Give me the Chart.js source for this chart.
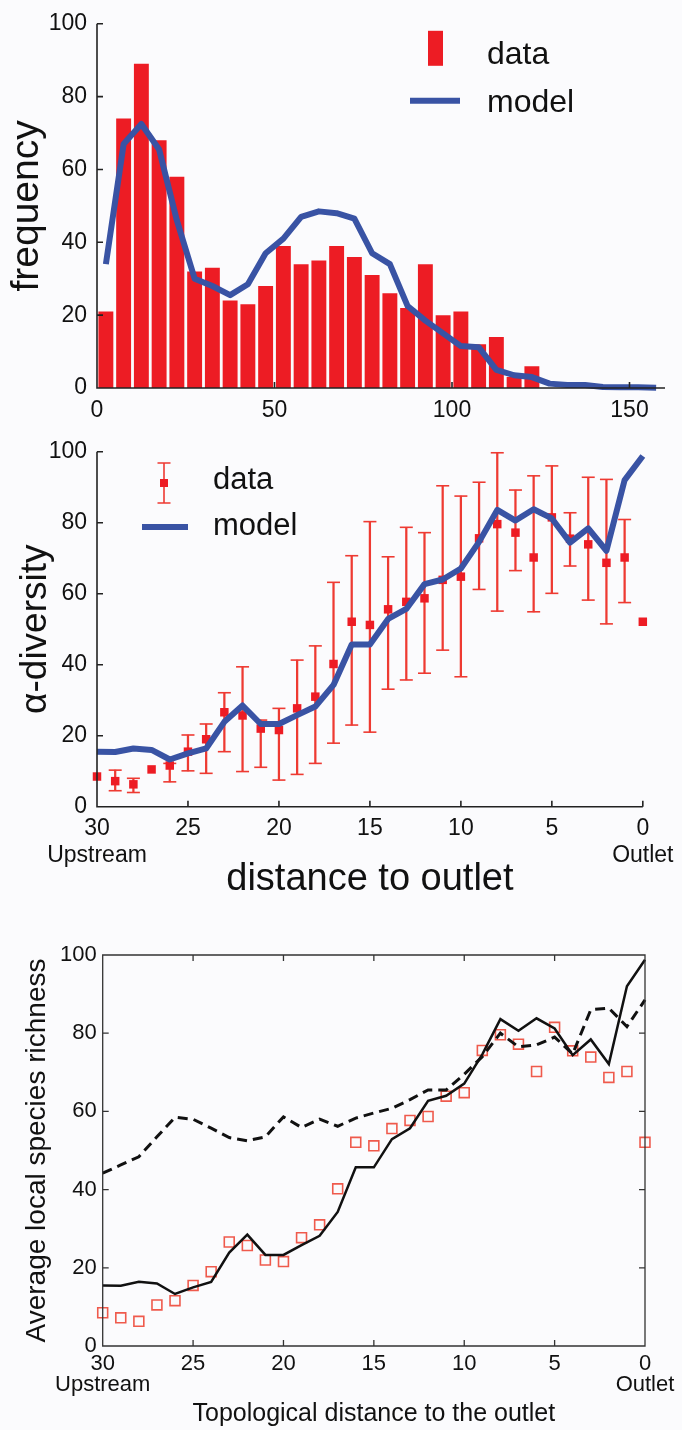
<!DOCTYPE html>
<html>
<head>
<meta charset="utf-8">
<script src="https://cdn.jsdelivr.net/npm/chart.js@4.4.1/dist/chart.umd.min.js"></script>
<style>
    body { margin: 0; background: #fbfbfd; }
    canvas { position: absolute; left: 0; }
</style>
</head>
<body>
<canvas id="freqChart" width="682" height="430" style="top:0"></canvas>
<canvas id="alphaChart" width="682" height="480" style="top:420px"></canvas>
<canvas id="richChart" width="682" height="510" style="top:920px"></canvas>
<script>
// Top panel: histogram of site distances, 5-unit bins.
const binCenters = [2.5, 7.5, 12.5, 17.5, 22.5, 27.5, 32.5, 37.5, 42.5, 47.5, 52.5, 57.5, 62.5, 67.5, 72.5, 77.5,
    82.5, 87.5, 92.5, 97.5, 102.5, 107.5, 112.5, 117.5, 122.5, 127.5, 132.5, 137.5, 142.5, 147.5, 152.5, 157.5];
const freqData = [21, 74, 89, 68, 58, 32, 33, 24, 23, 28, 39, 34, 35, 39, 36, 31,
    26, 22, 34, 20, 21, 12, 14, 3, 6, 0, 0, 0, 0, 0, 0, 0];
const freqModel = [34, 67, 72.5, 65.5, 46, 30, 28, 25.5, 28.5, 37, 41, 47, 48.5, 48, 46.5, 37,
    34, 22.5, 18.5, 15, 11.5, 11.2, 5, 3.5, 3, 1.2, 0.8, 0.8, 0.3, 0.2, 0.2, 0.1];
const freqXTicks = [0, 50, 100, 150];

// Middle and bottom panels: richness against distance to the outlet.
const distance = [30, 29, 28, 27, 26, 25, 24, 23, 22, 21, 20, 19, 18, 17, 16, 15,
    14, 13, 12, 11, 10, 9, 8, 7, 6, 5, 4, 3, 2, 1, 0];
const richness = [8.5, 7.2, 6.3, 10.5, 11.6, 15.5, 19, 26.6, 25.7, 22, 21.6, 27.7, 31, 40.2, 52.1, 51.2,
    55.6, 57.7, 58.7, 63.9, 64.8, 75.6, 79.6, 77.2, 70.2, 81.5, 75.5, 73.9, 68.7, 70.2, 52.1];
const richnessHigh = [null, 10.3, 8, null, 12.2, 20.2, 23.3, 32.1, 39.4, 24.4, 27.7, 41.3, 45.3, 63.2, 70.7, 80.3,
    70.4, 78.7, 77.2, 90.4, 87.5, 91.4, 99.7, 89.2, 93.2, 96, 82.8, 92.8, 92.2, 80.9, null];
const richnessLow = [null, 4.5, 4, null, 7, 10.1, 9.4, 15.5, 9.9, 11.1, 7.5, 9.1, 12.2, 17.9, 23, 21,
    33.1, 35.7, 37.6, 44.1, 36.6, 61.2, 55.1, 66.5, 54.9, 60.1, 67.8, 58.2, 51.5, 57.5, null];
const modelRichness = [15.5, 15.4, 16.4, 16, 13.3, 15, 16.4, 23.9, 28.5, 23.3, 23.3, 25.8, 28.2, 34.3, 45.7, 45.7,
    52.9, 55.7, 62.7, 64, 67.1, 74.6, 83.6, 80.6, 83.8, 81.2, 74.4, 78.4, 72.1, 92, 98.8];
const altModelRichness = [44.2, 46.3, 48.4, 53.5, 58.5, 58, 55.7, 53.3, 52.5, 53.5, 58.6, 55.9, 58, 56.2, 58.3, 59.6,
    60.8, 63, 65.5, 65.5, 69.5, 74, 80, 76.5, 77, 79, 74.7, 86, 86.4, 81.7, 88.5];
const endTicks = [30, 0];
const endNames = ['Upstream', 'Outlet'];

const RED = '#ed1c24';
const ERR = '#ee3a32';
const BLUE = '#3953a4';
const INK = '#111';
const FONT = "'Liberation Sans', Arial, sans-serif";

const points = (xs, ys) => xs.map((x, i) => ({ x, y: ys[i] })).filter(p => p.y !== null);
const endLabel = v => endTicks.includes(v) ? [String(v), endNames[endTicks.indexOf(v)]] : String(v);
const noGrid = { display: false, drawTicks: false, tickLength: 0 };
const noBorder = { display: false };

// Axis lines with inward (MATLAB style) tick marks, optionally a full box.
const frame = {
    id: 'frame',
    afterDatasetsDraw(chart, args, opts) {
        const { ctx, chartArea: a, scales: { x, y } } = chart;
        const len = opts.tickLength;
        ctx.save();
        ctx.strokeStyle = opts.color;
        ctx.lineWidth = opts.lineWidth;
        ctx.beginPath();
        ctx.moveTo(a.left, a.top);
        ctx.lineTo(a.left, a.bottom);
        ctx.lineTo(a.right, a.bottom);
        if (opts.box) {
            ctx.lineTo(a.right, a.top);
            ctx.closePath();
        }
        x.ticks.forEach(t => {
            const px = x.getPixelForValue(t.value);
            ctx.moveTo(px, a.bottom);
            ctx.lineTo(px, a.bottom - len);
            if (opts.box) {
                ctx.moveTo(px, a.top);
                ctx.lineTo(px, a.top + len);
            }
        });
        y.ticks.forEach(t => {
            const py = y.getPixelForValue(t.value);
            ctx.moveTo(a.left, py);
            ctx.lineTo(a.left + len, py);
            if (opts.box) {
                ctx.moveTo(a.right, py);
                ctx.lineTo(a.right - len, py);
            }
        });
        ctx.stroke();
        ctx.restore();
    },
};

// Legend drawn inside the plot, symbols styled from the datasets.
const keyBox = {
    id: 'keyBox',
    afterDraw(chart, args, opts) {
        if (!opts.items) return;
        const { ctx, chartArea: a } = chart;
        ctx.save();
        opts.items.forEach(item => {
            const ds = chart.data.datasets[item.dataset];
            const cx = a.left + item.cx;
            const cy = a.top + item.cy;
            if (item.symbol === 'bar') {
                ctx.fillStyle = ds.backgroundColor;
                ctx.fillRect(cx - 7.5, cy - 17.5, 15, 35);
            } else if (item.symbol === 'line') {
                ctx.strokeStyle = ds.borderColor;
                ctx.lineWidth = ds.borderWidth;
                ctx.beginPath();
                ctx.moveTo(cx - item.half, cy);
                ctx.lineTo(cx + item.half, cy);
                ctx.stroke();
            } else if (item.symbol === 'errbar') {
                ctx.strokeStyle = ERR;
                ctx.lineWidth = 1.6;
                ctx.beginPath();
                ctx.moveTo(cx, cy - 20);
                ctx.lineTo(cx, cy + 20);
                ctx.moveTo(cx - 6.5, cy - 20);
                ctx.lineTo(cx + 6.5, cy - 20);
                ctx.moveTo(cx - 6.5, cy + 20);
                ctx.lineTo(cx + 6.5, cy + 20);
                ctx.stroke();
                ctx.fillStyle = ds.pointBackgroundColor;
                ctx.fillRect(cx - 4, cy - 4, 8, 8);
            }
            ctx.fillStyle = INK;
            ctx.font = opts.font;
            ctx.textBaseline = 'alphabetic';
            ctx.fillText(item.label, a.left + opts.textX, a.top + item.baseline);
        });
        ctx.restore();
    },
};

const common = {
    responsive: false,
    animation: false,
    devicePixelRatio: 1,
    events: [],
};

function tickFont(size, lineHeight = 1.2) {
    return { family: FONT, size, lineHeight };
}

// Top panel.
new Chart(document.getElementById('freqChart'), {
    type: 'bar',
    data: {
        datasets: [
            {
                type: 'line',
                label: 'model',
                data: points(binCenters, freqModel),
                borderColor: BLUE,
                borderWidth: 6,
                borderJoinStyle: 'round',
                pointRadius: 0,
                tension: 0,
                clip: false,
            },
            {
                type: 'bar',
                label: 'data',
                data: points(binCenters, freqData),
                backgroundColor: RED,
                barPercentage: 0.84,
                categoryPercentage: 1,
            },
        ],
    },
    options: {
        ...common,
        layout: { padding: { top: 20, right: 17, left: 0, bottom: 0 } },
        scales: {
            x: {
                type: 'linear', min: 0, max: 160, offset: false,
                grid: noGrid, border: noBorder,
                afterFit: s => { s.height = 42; },
                afterBuildTicks: s => { s.ticks = freqXTicks.map(value => ({ value })); },
                ticks: { padding: 9, font: tickFont(23), color: INK, maxRotation: 0, autoSkip: false },
            },
            y: {
                type: 'linear', min: 0, max: 100,
                grid: noGrid, border: noBorder,
                afterFit: s => { s.width = 97; },
                ticks: { stepSize: 20, padding: 10, font: tickFont(23), color: INK },
                title: { display: true, text: 'frequency', color: INK, font: { family: FONT, size: 39, lineHeight: 1 }, padding: { top: 8, bottom: 0 } },
            },
        },
        plugins: {
            legend: { display: false },
            tooltip: { enabled: false },
            frame: { tickLength: 6, lineWidth: 1.6, color: '#222', box: false },
            keyBox: {
                font: `32px ${FONT}`,
                textX: 390,
                items: [
                    { dataset: 1, label: 'data', symbol: 'bar', cx: 338.5, cy: 24.5, baseline: 40 },
                    { dataset: 0, label: 'model', symbol: 'line', cx: 338, cy: 77, half: 25, baseline: 88 },
                ],
            },
        },
    },
    plugins: [frame, keyBox],
});

// Middle panel.
new Chart(document.getElementById('alphaChart'), {
    type: 'line',
    data: {
        datasets: [
            {
                label: 'model',
                data: points(distance, modelRichness),
                borderColor: BLUE,
                borderWidth: 6,
                borderJoinStyle: 'round',
                pointRadius: 0,
                tension: 0,
                clip: false,
            },
            {
                label: 'data',
                data: points(distance, richness),
                showLine: false,
                pointStyle: 'rect',
                pointRadius: 6,
                pointBackgroundColor: RED,
                pointBorderWidth: 0,
                clip: false,
            },
            {
                label: 'caps',
                data: points(distance, richnessHigh).concat(points(distance, richnessLow)),
                showLine: false,
                pointStyle: 'line',
                pointRadius: 6.5,
                pointBorderColor: ERR,
                pointBorderWidth: 1.6,
                clip: false,
            },
            {
                type: 'bar',
                label: 'range',
                data: distance.map((x, i) => ({ x, y: [richnessLow[i], richnessHigh[i]] })).filter(p => p.y[0] !== null),
                backgroundColor: ERR,
                barThickness: 1.6,
            },
        ],
    },
    options: {
        ...common,
        layout: { padding: { top: 31.7, right: 36.3, left: 0, bottom: 0 } },
        scales: {
            x: {
                type: 'linear', min: 0, max: 30, reverse: true, offset: false,
                grid: noGrid, border: noBorder,
                afterFit: s => { s.height = 93.3; },
                ticks: { stepSize: 5, padding: 8.5, font: tickFont(23, 1.16), color: INK, maxRotation: 0, autoSkip: false, callback: endLabel },
                title: { display: true, text: 'distance to outlet', color: INK, font: { family: FONT, size: 38, lineHeight: 1 }, padding: { top: 0, bottom: 1 } },
            },
            y: {
                type: 'linear', min: 0, max: 100,
                grid: noGrid, border: noBorder,
                afterFit: s => { s.width = 97; },
                ticks: { stepSize: 20, padding: 10, font: tickFont(23), color: INK },
                title: { display: true, text: 'α-diversity', color: INK, font: { family: FONT, size: 37, lineHeight: 1 }, padding: { top: 17, bottom: 0 } },
            },
        },
        plugins: {
            legend: { display: false },
            tooltip: { enabled: false },
            frame: { tickLength: 6, lineWidth: 1.6, color: '#222', box: false },
            keyBox: {
                font: `31px ${FONT}`,
                textX: 116,
                items: [
                    { dataset: 1, label: 'data', symbol: 'errbar', cx: 67, cy: 31.3, baseline: 37.3 },
                    { dataset: 0, label: 'model', symbol: 'line', cx: 68, cy: 75.3, half: 23, baseline: 83.3 },
                ],
            },
        },
    },
    plugins: [frame, keyBox],
});

// Bottom panel.
new Chart(document.getElementById('richChart'), {
    type: 'line',
    data: {
        datasets: [
            {
                label: 'model',
                data: points(distance, modelRichness),
                borderColor: INK,
                borderWidth: 2.5,
                pointRadius: 0,
                tension: 0,
                clip: false,
            },
            {
                label: 'model without dispersal',
                data: points(distance, altModelRichness),
                borderColor: INK,
                borderWidth: 3,
                borderDash: [10, 6],
                pointRadius: 0,
                tension: 0,
                clip: false,
            },
            {
                label: 'data',
                data: points(distance, richness),
                showLine: false,
                pointStyle: 'rect',
                pointRadius: 7,
                pointBackgroundColor: 'rgba(0,0,0,0)',
                pointBorderColor: '#ef5a4c',
                pointBorderWidth: 1.6,
                clip: false,
            },
        ],
    },
    options: {
        ...common,
        layout: { padding: { top: 35, right: 37, left: 0, bottom: 0 } },
        scales: {
            x: {
                type: 'linear', min: 0, max: 30, reverse: true, offset: false,
                grid: noGrid, border: noBorder,
                afterFit: s => { s.height = 84; },
                ticks: { stepSize: 5, padding: 7, font: tickFont(22, 0.98), color: INK, maxRotation: 0, autoSkip: false, callback: endLabel },
                title: { display: true, text: 'Topological distance to the outlet', color: INK, font: { family: FONT, size: 25, lineHeight: 1 }, padding: { top: 0, bottom: 3.5 } },
            },
            y: {
                type: 'linear', min: 0, max: 100,
                grid: noGrid, border: noBorder,
                afterFit: s => { s.width = 102.7; },
                ticks: { stepSize: 20, padding: 6, font: tickFont(22), color: INK },
                title: { display: true, text: 'Average local species richness', color: INK, font: { family: FONT, size: 28, lineHeight: 1 }, padding: { top: 23, bottom: 0 } },
            },
        },
        plugins: {
            legend: { display: false },
            tooltip: { enabled: false },
            frame: { tickLength: 6, lineWidth: 1.3, color: '#333', box: true },
        },
    },
    plugins: [frame],
});
</script>
</body>
</html>
